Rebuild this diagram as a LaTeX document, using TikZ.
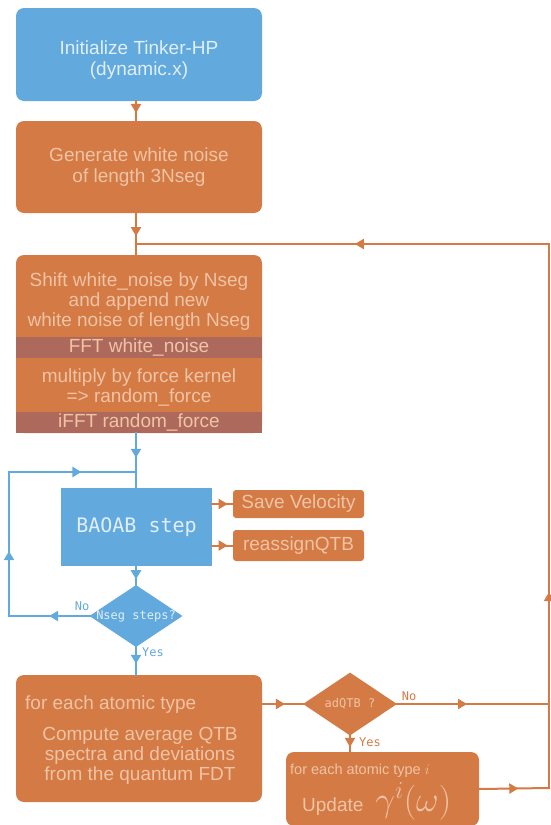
\RequirePackage{fix-cm}
\documentclass[tikz,border=0pt]{standalone}
\usepackage{fontspec}
\setmainfont{Liberation Sans}
\newfontfamily\monofont{DejaVu Sans Mono}
\usepackage{tikz}
\usetikzlibrary{arrows.meta, decorations.markings, shapes.geometric, positioning}

\definecolor{qblue}{HTML}{62A9DE}
\definecolor{qorange}{HTML}{D47A45}
\definecolor{qband}{HTML}{AD6A5C}
\definecolor{qpeach}{HTML}{F1C3A5}
\definecolor{qpale}{HTML}{E0EFFA}

\tikzset{
  bbox/.style={rectangle, rounded corners=8pt, fill=qblue, text=qpale, minimum width=246pt, align=center, font=\fontsize{19}{21.5}\selectfont},
  obox/.style={rectangle, rounded corners=8pt, fill=qorange, text=qpeach, minimum width=246pt, align=center, font=\fontsize{19}{21.5}\selectfont},
  otxt/.style={text=qpeach, align=center, inner sep=0pt, font=\fontsize{19}{20}\selectfont},
  band/.style={rectangle, fill=qband, text=qpeach, minimum width=246pt, minimum height=21pt, inner sep=0pt, font=\fontsize{19}{20}\selectfont},
  smallbox/.style={rectangle, rounded corners=3pt, fill=qorange, text=qpeach, minimum width=131pt, inner sep=0pt, font=\fontsize{19}{21}\selectfont},
  dec/.style={diamond, inner sep=0pt, minimum width=93pt, minimum height=62pt},
  ans/.style={inner sep=0pt, font=\monofont\fontsize{12}{14}\selectfont},
  bline/.style={qblue, line width=2.5pt, line cap=rect},
  oline/.style={qorange, line width=2pt, line cap=rect},
  midtip/.style={postaction={decorate}, decoration={markings, mark=at position #1 with {\arrow{Triangle[width=10pt,length=9pt]}}}}
}

\begin{document}
\begin{tikzpicture}[x=1pt, y=-1pt]
    \useasboundingbox (0,0) rectangle (550,825);

    % Start
    \node[bbox, minimum height=93pt] (init) at (139,54.5) {};
    \node[otxt, text=qpale, font=\fontsize{19}{21}\selectfont] (inittxt) at (139,60) {Initialize Tinker-HP\\(dynamic.x)};
    \node[obox, minimum height=92pt] (gen) at (139,167) {Generate white noise\\of length 3Nseg};

    % Noise block
    \node[obox, minimum height=178pt] (noise) at (139,344) {};
    \node[otxt] (shift) at (139,302) {Shift white\_noise by Nseg\\and append new\\white noise of length Nseg};
    \node[band] (fft) at (139,347.5) {FFT white\_noise};
    \node[otxt] (mult) at (139,387.5) {multiply by force kernel\\=> random\_force};
    \node[band] (ifft) at (139,422.5) {iFFT random\_force};

    % MD step
    \node[rectangle, fill=qblue, minimum width=151pt, minimum height=78pt, text=qpale, font=\monofont\fontsize{20}{24}\selectfont] (baoab) at (136.5,527) {BAOAB step};
    \node[smallbox, minimum height=28pt] (save) at (298.5,504) {Save Velocity};
    \node[smallbox, minimum height=31pt] (reas) at (298.5,545.5) {reassignQTB};
    \node[dec, fill=qblue, label={[text=qpale, ans]center:Nseg steps?}] (nseg) at (136,616) {};
    \node[ans, text=qblue] (nsegno) at (82,606) {No};
    \node[ans, text=qblue] (nsegyes) at (153,652) {Yes};

    % Spectra
    \node[obox, minimum height=127pt] (comp) at (139,738.5) {};
    \node[otxt, anchor=west, font=\fontsize{19}{21}\selectfont] (each) at (25,704.5) {for each atomic type};
    \node[otxt] (avg) at (140,755.5) {Compute average QTB\\spectra and deviations\\from the quantum FDT};
    \node[dec, fill=qorange, minimum width=94pt, minimum height=63pt, label={[text=qpeach, ans]center:adQTB ?}] (adqtb) at (350,704) {};
    \node[ans, text=qorange] (adno) at (409,696) {No};
    \node[ans, text=qorange] (adyes) at (370,742) {Yes};
    \node[obox, minimum width=193pt, minimum height=74pt] (upd) at (382.5,789) {};
    \node[otxt, anchor=west, font=\fontsize{14.5}{16}\selectfont] (eachi) at (290,771) {for each atomic type $i$};
    \node[otxt, anchor=west] (updg) at (302,801) {Update\hspace{12pt}{\fontsize{35}{38}\selectfont$\gamma^i(\omega)$}};

    % Loop points
    \coordinate (jT) at (136,244);
    \coordinate (rT) at (549,244);
    \coordinate (rM) at (549,704);
    \coordinate (rB) at (549,788);
    \coordinate (jB) at (136,472);
    \coordinate (loopL) at (9,616);
    \coordinate (loopT) at (9,472);

    % Connectors
    \draw[oline, midtip=0.6] (init.south -| jT) -- (gen.north -| jT);
    \draw[oline, midtip=0.55] (gen.south -| jT) -- (noise.north -| jT);
    \draw[bline, midtip=0.45] (noise.south -| jT) -- (baoab.north -| jT);
    \draw[oline, midtip=0.75] (baoab.east |- save) -- (save.west);
    \draw[oline, midtip=0.75] (baoab.east |- reas) -- (reas.west);
    \draw[bline, midtip=0.7] (baoab.south -| jT) -- (nseg.north);
    \draw[bline, midtip=0.5] (nseg.west) -- (loopL);
    \draw[bline, midtip=0.45] (loopL) -- (loopT);
    \draw[bline, midtip=0.57] (loopT) -- (jB);
    \draw[bline, midtip=0.6] (nseg.south) -- (comp.north -| nseg);
    \draw[oline, midtip=0.56] (comp.east |- adqtb) -- (adqtb.west);
    \draw[oline, midtip=0.7] (adqtb.south) -- (upd.north -| adqtb);
    \draw[oline, midtip=0.46] (adqtb.east) -- (rM);
    \draw[oline, midtip=0.56] (upd.east) -- (rB);
    \draw[oline, midtip=0.36] (rB) -- (rT);
    \draw[oline, midtip=0.47] (rT) -- (jT);
\end{tikzpicture}
\end{document}
